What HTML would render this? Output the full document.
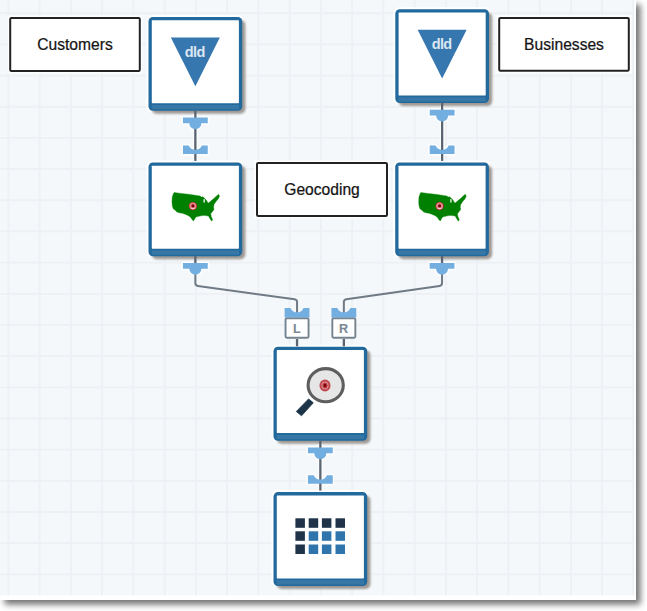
<!DOCTYPE html>
<html><head><meta charset="utf-8"><style>
html,body{margin:0;padding:0;background:#fff;width:647px;height:611px;overflow:hidden}
svg{display:block}
text{font-family:"Liberation Sans",sans-serif}
</style></head><body>
<svg width="647" height="611" viewBox="0 0 647 611">
<defs>
<filter id="fs" x="-20%" y="-20%" width="140%" height="140%"><feGaussianBlur stdDeviation="3.2"/></filter>
<filter id="ns" x="-20%" y="-20%" width="140%" height="140%"><feGaussianBlur stdDeviation="0.8"/></filter>
<filter id="gb" x="-5%" y="-5%" width="110%" height="110%"><feGaussianBlur stdDeviation="0.35"/></filter>
</defs>

<rect x="4.5" y="4.5" width="636" height="600" fill="#000" opacity="0.55" filter="url(#fs)"/>
<rect x="0" y="0" width="636" height="600" fill="#fff"/>
<rect x="0" y="0" width="634" height="595.3" fill="#f4f8fb"/>
<path d="M8.40,0V595.3 M39.65,0V595.3 M70.90,0V595.3 M102.15,0V595.3 M133.40,0V595.3 M164.65,0V595.3 M195.90,0V595.3 M227.15,0V595.3 M258.40,0V595.3 M289.65,0V595.3 M320.90,0V595.3 M352.15,0V595.3 M383.40,0V595.3 M414.65,0V595.3 M445.90,0V595.3 M477.15,0V595.3 M508.40,0V595.3 M539.65,0V595.3 M570.90,0V595.3 M602.15,0V595.3 M633.40,0V595.3 M0,13.24H634 M0,44.41H634 M0,75.58H634 M0,106.76H634 M0,137.93H634 M0,169.10H634 M0,200.27H634 M0,231.44H634 M0,262.62H634 M0,293.79H634 M0,324.96H634 M0,356.13H634 M0,387.30H634 M0,418.48H634 M0,449.65H634 M0,480.82H634 M0,511.99H634 M0,543.16H634 M0,574.34H634" stroke="#edf0f4" stroke-width="1.8" fill="none"/>
<rect x="7.699999999999999" y="15.600000000000001" width="134.60000000000002" height="57.800000000000004" fill="#fff"/>
<rect x="10.2" y="18.1" width="129.60000000000002" height="52.800000000000004" rx="1.2" fill="#fff" stroke="#222" stroke-width="2"/>
<text transform="translate(75,49.5) scale(0.953,1)" x="0" y="0" font-size="16.4" fill="#141414" stroke="#141414" stroke-width="0.25" text-anchor="middle">Customers</text>
<rect x="496.7" y="15.399999999999999" width="134.59999999999997" height="57.9" fill="#fff"/>
<rect x="499.2" y="17.9" width="129.59999999999997" height="52.9" rx="1.2" fill="#fff" stroke="#222" stroke-width="2"/>
<text transform="translate(564,50.1) scale(0.953,1)" x="0" y="0" font-size="16.4" fill="#141414" stroke="#141414" stroke-width="0.25" text-anchor="middle">Businesses</text>
<rect x="254.5" y="160.6" width="135" height="57.80000000000001" fill="#fff"/>
<rect x="257" y="163.1" width="130" height="52.80000000000001" rx="1.2" fill="#fff" stroke="#222" stroke-width="2"/>
<text transform="translate(322,195.1) scale(0.953,1)" x="0" y="0" font-size="16.4" fill="#141414" stroke="#141414" stroke-width="0.25" text-anchor="middle">Geocoding</text>
<rect x="146.5" y="14.899999999999999" width="97.7" height="97.7" rx="6" fill="#fff" opacity="0.9"/>
<rect x="151.7" y="20.099999999999998" width="93.7" height="93.7" rx="5" fill="#9e9994" filter="url(#ns)"/>
<rect x="148.5" y="16.9" width="93.7" height="93.9" rx="4.5" fill="#22699d"/>
<rect x="151.7" y="104.9" width="87.3" height="4.4" fill="#3677a6"/>
<rect x="151.8" y="20.2" width="87.10000000000001" height="83.0" rx="0.6" fill="#fff"/>
<rect x="393.3" y="7.199999999999999" width="97.7" height="97.7" rx="6" fill="#fff" opacity="0.9"/>
<rect x="398.5" y="12.399999999999999" width="93.7" height="93.7" rx="5" fill="#9e9994" filter="url(#ns)"/>
<rect x="395.3" y="9.2" width="93.7" height="93.9" rx="4.5" fill="#22699d"/>
<rect x="398.5" y="97.2" width="87.3" height="4.4" fill="#3677a6"/>
<rect x="398.6" y="12.5" width="87.10000000000001" height="83.0" rx="0.6" fill="#fff"/>
<rect x="146.5" y="160.4" width="97.7" height="97.7" rx="6" fill="#fff" opacity="0.9"/>
<rect x="151.7" y="165.6" width="93.7" height="93.7" rx="5" fill="#9e9994" filter="url(#ns)"/>
<rect x="148.5" y="162.4" width="93.7" height="93.9" rx="4.5" fill="#22699d"/>
<rect x="151.7" y="250.4" width="87.3" height="4.4" fill="#3677a6"/>
<rect x="151.8" y="165.70000000000002" width="87.10000000000001" height="83.0" rx="0.6" fill="#fff"/>
<rect x="393.2" y="160.4" width="97.7" height="97.7" rx="6" fill="#fff" opacity="0.9"/>
<rect x="398.4" y="165.6" width="93.7" height="93.7" rx="5" fill="#9e9994" filter="url(#ns)"/>
<rect x="395.2" y="162.4" width="93.7" height="93.9" rx="4.5" fill="#22699d"/>
<rect x="398.4" y="250.4" width="87.3" height="4.4" fill="#3677a6"/>
<rect x="398.5" y="165.70000000000002" width="87.10000000000001" height="83.0" rx="0.6" fill="#fff"/>
<rect x="271.5" y="344.8" width="97.7" height="97.7" rx="6" fill="#fff" opacity="0.9"/>
<rect x="276.7" y="350.0" width="93.7" height="93.7" rx="5" fill="#9e9994" filter="url(#ns)"/>
<rect x="273.5" y="346.8" width="93.7" height="93.9" rx="4.5" fill="#22699d"/>
<rect x="276.7" y="434.8" width="87.3" height="4.4" fill="#3677a6"/>
<rect x="276.8" y="350.1" width="87.10000000000001" height="83.0" rx="0.6" fill="#fff"/>
<rect x="271.5" y="490.1" width="97.7" height="97.7" rx="6" fill="#fff" opacity="0.9"/>
<rect x="276.7" y="495.3" width="93.7" height="93.7" rx="5" fill="#9e9994" filter="url(#ns)"/>
<rect x="273.5" y="492.1" width="93.7" height="93.9" rx="4.5" fill="#22699d"/>
<rect x="276.7" y="580.1" width="87.3" height="4.4" fill="#3677a6"/>
<rect x="276.8" y="495.40000000000003" width="87.10000000000001" height="83.0" rx="0.6" fill="#fff"/>
<path d="M195.35,114.1 V160.9" stroke="#fff" stroke-width="5" opacity="0.7" fill="none"/>
<path d="M182.95,117.5 H207.75 V123.3 H201.35 A6,6 0 0 1 189.35,123.3 H182.95 Z" fill="#fff" stroke="#fff" stroke-width="3" opacity="0.8"/>
<path d="M182.95,145.5 H188.85 A7,7 0 0 0 201.85,145.5 H207.75 V154.1 H182.95 Z" fill="#fff" stroke="#fff" stroke-width="3" opacity="0.8"/>
<path d="M195.35,110.6 V160.9" stroke="#5a6571" stroke-width="2.3" fill="none"/>
<path d="M182.95,117.5 H207.75 V123.3 H201.35 A6,6 0 0 1 189.35,123.3 H182.95 Z" fill="#73aee0"/>
<path d="M182.95,145.5 H188.85 A7,7 0 0 0 201.85,145.5 H207.75 V154.1 H182.95 Z" fill="#73aee0"/>
<path d="M442.15000000000003,106.4 V160.9" stroke="#fff" stroke-width="5" opacity="0.7" fill="none"/>
<path d="M429.75000000000006,109.80000000000001 H454.55 V115.60000000000001 H448.15000000000003 A6,6 0 0 1 436.15000000000003,115.60000000000001 H429.75000000000006 Z" fill="#fff" stroke="#fff" stroke-width="3" opacity="0.8"/>
<path d="M429.75000000000006,145.5 H435.65000000000003 A7,7 0 0 0 448.65000000000003,145.5 H454.55 V154.1 H429.75000000000006 Z" fill="#fff" stroke="#fff" stroke-width="3" opacity="0.8"/>
<path d="M442.15000000000003,102.9 V160.9" stroke="#5a6571" stroke-width="2.3" fill="none"/>
<path d="M429.75000000000006,109.80000000000001 H454.55 V115.60000000000001 H448.15000000000003 A6,6 0 0 1 436.15000000000003,115.60000000000001 H429.75000000000006 Z" fill="#73aee0"/>
<path d="M429.75000000000006,145.5 H435.65000000000003 A7,7 0 0 0 448.65000000000003,145.5 H454.55 V154.1 H429.75000000000006 Z" fill="#73aee0"/>
<path d="M320.35,444.0 V490.6" stroke="#fff" stroke-width="5" opacity="0.7" fill="none"/>
<path d="M307.95000000000005,447.4 H332.75 V453.2 H326.35 A6,6 0 0 1 314.35,453.2 H307.95000000000005 Z" fill="#fff" stroke="#fff" stroke-width="3" opacity="0.8"/>
<path d="M307.95000000000005,475.20000000000005 H313.85 A7,7 0 0 0 326.85,475.20000000000005 H332.75 V483.80000000000007 H307.95000000000005 Z" fill="#fff" stroke="#fff" stroke-width="3" opacity="0.8"/>
<path d="M320.35,440.5 V490.6" stroke="#5a6571" stroke-width="2.3" fill="none"/>
<path d="M307.95000000000005,447.4 H332.75 V453.2 H326.35 A6,6 0 0 1 314.35,453.2 H307.95000000000005 Z" fill="#73aee0"/>
<path d="M307.95000000000005,475.20000000000005 H313.85 A7,7 0 0 0 326.85,475.20000000000005 H332.75 V483.80000000000007 H307.95000000000005 Z" fill="#73aee0"/>
<path d="M182.95,263.0 H207.75 V268.8 H201.35 A6,6 0 0 1 189.35,268.8 H182.95 Z" fill="#fff" stroke="#fff" stroke-width="3" opacity="0.8"/>
<path d="M195.35,256.1 V266.1" stroke="#5a6571" stroke-width="2.3" fill="none"/>
<path d="M195.35,268.1 V283.1 Q195.35,285.6 197.85,285.90000000000003 L294.55,299.3 Q297.05,299.70000000000005 297.05,302.1 V313.1" stroke="#6f7a85" stroke-width="2.0" fill="none"/>
<path d="M182.95,263.0 H207.75 V268.8 H201.35 A6,6 0 0 1 189.35,268.8 H182.95 Z" fill="#73aee0"/>
<path d="M429.65000000000003,263.0 H454.45 V268.8 H448.05 A6,6 0 0 1 436.05,268.8 H429.65000000000003 Z" fill="#fff" stroke="#fff" stroke-width="3" opacity="0.8"/>
<path d="M442.05,256.1 V266.1" stroke="#5a6571" stroke-width="2.3" fill="none"/>
<path d="M442.05,268.1 V283.1 Q442.05,285.6 439.55,285.90000000000003 L346.35,299.3 Q343.85,299.70000000000005 343.85,302.1 V313.1" stroke="#6f7a85" stroke-width="2.0" fill="none"/>
<path d="M429.65000000000003,263.0 H454.45 V268.8 H448.05 A6,6 0 0 1 436.05,268.8 H429.65000000000003 Z" fill="#73aee0"/>
<rect x="285.55" y="318.2" width="23" height="19.6" rx="1.2" fill="#fff" stroke="#75838f" stroke-width="1.9"/>
<path d="M284.65000000000003,307.9 H290.55 A7,7 0 0 0 303.55,307.9 H309.45 V317.4 H284.65000000000003 Z" fill="#73aee0"/>
<path d="M297.05,339 V346.3" stroke="#5a6571" stroke-width="2.3"/>
<text x="296.85" y="332.8" font-size="12.6" font-weight="bold" fill="#7b8894" stroke="#7b8894" stroke-width="0.1" text-anchor="middle">L</text>
<rect x="332.35" y="318.2" width="23" height="19.6" rx="1.2" fill="#fff" stroke="#75838f" stroke-width="1.9"/>
<path d="M331.45000000000005,307.9 H337.35 A7,7 0 0 0 350.35,307.9 H356.25 V317.4 H331.45000000000005 Z" fill="#73aee0"/>
<path d="M343.85,339 V346.3" stroke="#5a6571" stroke-width="2.3"/>
<text x="343.65000000000003" y="332.8" font-size="12.6" font-weight="bold" fill="#7b8894" stroke="#7b8894" stroke-width="0.1" text-anchor="middle">R</text>
<path d="M170.85,37.5 H219.85 L195.35,86.30000000000001 Z" fill="#3777b0"/>
<text x="194.85" y="56.8" font-size="14.5" font-weight="bold" fill="#dce6f0" text-anchor="middle" letter-spacing="-0.6">dld</text>
<path d="M417.65000000000003,29.8 H466.65000000000003 L442.15000000000003,78.60000000000001 Z" fill="#3777b0"/>
<text x="441.65000000000003" y="49.099999999999994" font-size="14.5" font-weight="bold" fill="#dce6f0" text-anchor="middle" letter-spacing="-0.6">dld</text>
<g transform="translate(0.00,0.00)">
<path d="M174.11,192.42 L179.21,193.16 L188.49,194.28 L196.84,195.39 L200.09,195.95 L201.48,197.06 L202.87,196.87 L204.26,197.99 L206.12,199.84 L207.51,202.16 L208.44,203.09 L211.68,200.31 L214.47,197.99 L216.78,195.67 L218.64,194.28 L219.57,196.13 L218.18,198.91 L215.86,201.70 L214.00,204.48 L213.54,207.26 L214.00,209.58 L212.15,211.90 L210.75,213.76 L211.22,216.54 L212.61,219.79 L211.68,221.18 L209.83,218.40 L208.44,216.08 L205.19,215.61 L202.41,215.61 L198.70,216.35 L195.91,217.00 L194.52,219.32 L193.59,220.99 L192.20,219.79 L190.35,217.00 L188.03,215.61 L185.71,214.50 L182.46,213.29 L179.21,212.83 L176.90,211.90 L175.50,210.51 L173.18,208.65 L172.26,205.41 L171.98,201.70 L172.26,197.06 L173.18,194.28Z" fill="#008000" stroke="#008000" stroke-width="0.35" stroke-linejoin="round"/>
<ellipse cx="204.2" cy="200.8" rx="0.9" ry="2.1" fill="#c8e4c8"/>
<circle cx="192.9" cy="206.1" r="4.2" fill="#a82020"/><circle cx="192.9" cy="206.1" r="3.5" fill="#e8868e"/><ellipse cx="192.9" cy="208.4" rx="2" ry="0.8" fill="#f3cdd1"/><circle cx="192.9" cy="205.9" r="1.6" fill="#7a0000"/>
</g>
<g transform="translate(246.70,0.00)">
<path d="M174.11,192.42 L179.21,193.16 L188.49,194.28 L196.84,195.39 L200.09,195.95 L201.48,197.06 L202.87,196.87 L204.26,197.99 L206.12,199.84 L207.51,202.16 L208.44,203.09 L211.68,200.31 L214.47,197.99 L216.78,195.67 L218.64,194.28 L219.57,196.13 L218.18,198.91 L215.86,201.70 L214.00,204.48 L213.54,207.26 L214.00,209.58 L212.15,211.90 L210.75,213.76 L211.22,216.54 L212.61,219.79 L211.68,221.18 L209.83,218.40 L208.44,216.08 L205.19,215.61 L202.41,215.61 L198.70,216.35 L195.91,217.00 L194.52,219.32 L193.59,220.99 L192.20,219.79 L190.35,217.00 L188.03,215.61 L185.71,214.50 L182.46,213.29 L179.21,212.83 L176.90,211.90 L175.50,210.51 L173.18,208.65 L172.26,205.41 L171.98,201.70 L172.26,197.06 L173.18,194.28Z" fill="#008000" stroke="#008000" stroke-width="0.35" stroke-linejoin="round"/>
<ellipse cx="204.2" cy="200.8" rx="0.9" ry="2.1" fill="#c8e4c8"/>
<circle cx="192.9" cy="206.1" r="4.2" fill="#a82020"/><circle cx="192.9" cy="206.1" r="3.5" fill="#e8868e"/><ellipse cx="192.9" cy="208.4" rx="2" ry="0.8" fill="#f3cdd1"/><circle cx="192.9" cy="205.9" r="1.6" fill="#7a0000"/>
</g>
<ellipse cx="325.7" cy="385.2" rx="17.6" ry="16.6" fill="#e6e6e6" stroke="#5e5e5e" stroke-width="3.1"/>
<path d="M308.6,398.9 L313.3,402.8 L301.5,415.8 L296.3,411.5 Z" fill="#1c3448" stroke="#1c3448" stroke-width="0.8" stroke-linejoin="round"/>
<ellipse cx="325" cy="385.5" rx="5.5" ry="6" fill="#c0454c"/><ellipse cx="325" cy="385.5" rx="3.6" ry="4" fill="#d98a90"/><ellipse cx="325" cy="385.5" rx="2.4" ry="2.7" fill="#b53038"/><ellipse cx="325" cy="385.5" rx="1.2" ry="1.4" fill="#700000"/>
<rect x="295.4" y="518.3" width="9.5" height="9.5" fill="#1f3349"/>
<rect x="308.7" y="518.3" width="9.5" height="9.5" fill="#1f3349"/>
<rect x="321.9" y="518.3" width="9.5" height="9.5" fill="#1f3349"/>
<rect x="335.5" y="518.3" width="9.5" height="9.5" fill="#1f3349"/>
<rect x="295.4" y="531.3" width="9.5" height="9.5" fill="#1f3349"/>
<rect x="308.7" y="531.3" width="9.5" height="9.5" fill="#2f74aa"/>
<rect x="321.9" y="531.3" width="9.5" height="9.5" fill="#2f74aa"/>
<rect x="335.5" y="531.3" width="9.5" height="9.5" fill="#2f74aa"/>
<rect x="295.4" y="544.5" width="9.5" height="9.5" fill="#1f3349"/>
<rect x="308.7" y="544.5" width="9.5" height="9.5" fill="#2f74aa"/>
<rect x="321.9" y="544.5" width="9.5" height="9.5" fill="#2f74aa"/>
<rect x="335.5" y="544.5" width="9.5" height="9.5" fill="#2f74aa"/>
</svg></body></html>
